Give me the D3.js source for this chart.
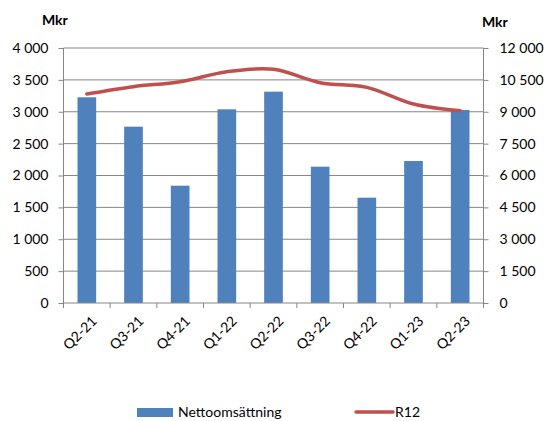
<!DOCTYPE html>
<html><head><meta charset="utf-8">
<script src="https://cdn.jsdelivr.net/npm/d3@7"></script>
<style>body{margin:0;background:#fff}text{font-family:Lato,"Open Sans",sans-serif;fill:#000}</style>
</head><body>
<svg id="c" width="548" height="421"></svg>
<script>
const categories = ["Q2-21","Q3-21","Q4-21","Q1-22","Q2-22","Q3-22","Q4-22","Q1-23","Q2-23"];
const netto = [3227, 2766, 1840, 3038, 3315, 2138, 1652, 2227, 3027];
const r12 = [9835, 10180, 10414, 10885, 10996, 10368, 10149, 9365, 9051];
const leftTicks = [0,500,1000,1500,2000,2500,3000,3500,4000];
const rightTicks = [0,1500,3000,4500,6000,7500,9000,10500,12000];

const svg = d3.select("#c");
const L = 63.5, R = 483.5, T = 48, B = 303;
const fmt = v => d3.format(",")(v).replace(/,/g, " ");
const x = d3.scaleBand().domain(categories).range([L, R]).paddingInner(0.6).paddingOuter(0.3);
const xc = d3.scalePoint().domain(categories).range([L, R]).padding(0.5);
const yL = d3.scaleLinear().domain([0, 4000]).range([B, T]);
const yR = d3.scaleLinear().domain([0, 12000]).range([B, T]);
const grey = "#868686";

svg.append("g").selectAll("line").data(leftTicks.slice(1)).join("line")
  .attr("x1", L).attr("x2", R).attr("y1", d => yL(d)).attr("y2", d => yL(d))
  .attr("stroke", grey).attr("stroke-width", 1);

svg.append("g").selectAll("rect").data(netto).join("rect")
  .attr("x", (d, i) => x(categories[i])).attr("width", x.bandwidth())
  .attr("y", d => yL(d)).attr("height", d => B - yL(d))
  .attr("fill", "#4F81BD");

const gl = svg.append("g").attr("transform", `translate(${L},0)`)
  .call(d3.axisLeft(yL).tickValues(leftTicks).tickFormat(fmt).tickSize(5).tickPadding(10));
const gr = svg.append("g").attr("transform", `translate(${R},0)`)
  .call(d3.axisRight(yR).tickValues(rightTicks).tickFormat(fmt).tickSize(5).tickPadding(11));
const gb = svg.append("g").attr("transform", `translate(0,${B})`)
  .call(d3.axisBottom(x).tickSize(0).tickFormat(""));
[gl, gr].forEach(g => {
  g.select(".domain").attr("stroke", grey).attr("d", `M0,${B}V${T}`);
  g.selectAll(".tick line").attr("stroke", grey);
  g.selectAll("text").attr("font-family", "Lato, sans-serif").attr("font-size", 14).attr("fill", "#000");
});
gb.select(".domain").attr("stroke", grey).attr("d", `M${L},0H${R}`);
const bounds = d3.range(categories.length + 1).map(i => L + i * (R - L) / categories.length);
svg.append("g").selectAll("line").data(bounds).join("line")
  .attr("x1", d => d).attr("x2", d => d).attr("y1", B).attr("y2", B + 5)
  .attr("stroke", grey);

svg.append("g").selectAll("text").data(categories).join("text")
  .attr("transform", d => `translate(${xc(d) + 4},${B + 12}) rotate(-45)`)
  .attr("text-anchor", "end").attr("dy", "0.7em")
  .attr("font-size", 14).text(d => d);

const line = d3.line().x((d, i) => xc(categories[i])).y(d => yR(d)).curve(d3.curveCatmullRom.alpha(0));
svg.append("path").datum(r12).attr("d", line)
  .attr("fill", "none").attr("stroke", "#C0504D").attr("stroke-width", 3.5).attr("stroke-linecap", "round");

svg.append("text").attr("x", 42).attr("y", 25).attr("font-size", 14).attr("font-weight", "bold").text("Mkr");
svg.append("text").attr("x", 482).attr("y", 27).attr("font-size", 14).attr("font-weight", "bold").text("Mkr");

svg.append("rect").attr("x", 137).attr("y", 408).attr("width", 36).attr("height", 9).attr("fill", "#4F81BD");
svg.append("text").attr("x", 178).attr("y", 417).attr("font-size", 14).text("Nettoomsättning");
svg.append("line").attr("x1", 356).attr("x2", 393).attr("y1", 412).attr("y2", 412)
  .attr("stroke", "#C0504D").attr("stroke-width", 3.5).attr("stroke-linecap", "round");
svg.append("text").attr("x", 395).attr("y", 417).attr("font-size", 14).text("R12");
</script>
</body></html>
